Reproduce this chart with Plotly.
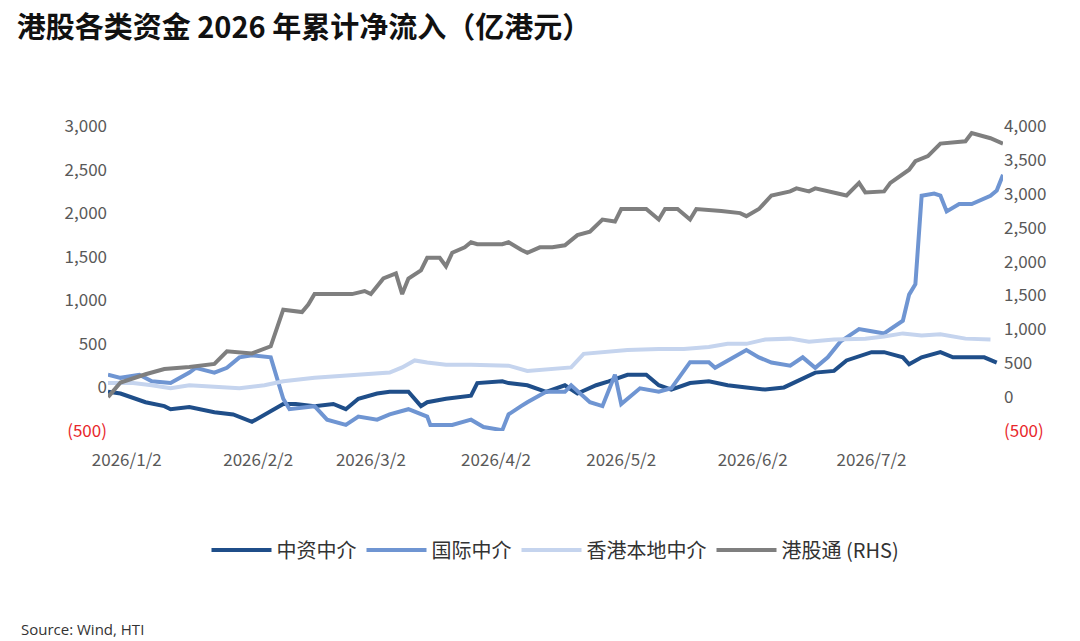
import plotly.graph_objects as go

# x = trading-day index since 2026/1/2
zz_x = [0,2,6,9,10,13,17,20,23,25,28,30,33,36,38,40,43,45,48,50,51,54,58,59,63,64,67,70,73,75,78,80,83,86,88,90,93,96,99,102,105,108,111,113,116,118,122,124,127,128,130,133,135,137,140,142]
zz_y = [-50,-70,-170,-215,-250,-225,-285,-310,-395,-310,-190,-190,-215,-190,-250,-130,-70,-50,-50,-215,-170,-130,-95,50,70,50,25,-50,25,-70,25,70,145,145,25,-25,50,70,25,0,-25,0,105,170,190,310,405,405,345,265,345,405,345,345,345,285]

gj_x = [0,2,5,7,10,13,14,17,19,21,23,26,28,29,33,35,38,40,43,45,48,51,51.5,55,58,60,63,64,66,67,70,73,74,77,79,81,82,85,88,90,93,96,97,100,102,104,106,109,111,113,115,117,120,122,124,127,128,129,130,132,133,134,136,138,139,141,142,143]
gj_y = [145,110,145,70,50,170,225,170,225,345,370,345,-130,-250,-215,-370,-430,-335,-370,-310,-250,-335,-430,-430,-370,-455,-490,-310,-215,-170,-50,-50,25,-170,-215,145,-190,-10,-50,-10,290,290,225,345,430,345,285,250,345,225,345,525,670,645,620,765,1065,1185,2200,2225,2200,2020,2105,2105,2140,2200,2260,2440]

hk_x = [0,4,7,10,13,17,21,25,28,33,37,42,45,47,49,51,54,58,61,64,67,70,74,76,80,83,88,92,96,99,102,105,109,112,116,121,124,127,130,133,137,141]
hk_y = [50,50,25,-10,25,10,-10,25,70,110,130,145,170,230,310,285,260,260,260,250,190,205,230,385,405,430,440,440,465,500,500,550,560,525,550,560,585,620,595,610,560,550]

sc_x = [0,2,6,9,13,17,19,23,26,28,31,32,33,39,41,42,44,46,47,48,50,51,53,54,55,57,58,59,63,64,66,67,69,71,73,75,77,79,81,82,86,88,89,91,93,94,98,101,102,104,106,109,110,112,113,116,118,120,121,124,125,128,129,131,133,137,138,141,143]
sc_y = [0,215,337,414,445,490,675,645,750,1290,1255,1365,1520,1520,1565,1520,1750,1825,1520,1750,1870,2055,2055,1930,2130,2210,2285,2255,2255,2285,2175,2130,2210,2210,2240,2390,2440,2620,2590,2775,2775,2620,2775,2775,2620,2775,2745,2715,2670,2775,2975,3035,3080,3035,3080,3020,2975,3160,3020,3035,3160,3355,3480,3555,3740,3775,3895,3820,3740]

tick_days = [3, 24, 42, 62, 82, 103, 122]
tick_text = ['2026/1/2','2026/2/2','2026/3/2','2026/4/2','2026/5/2','2026/6/2','2026/7/2']
left_ticks = [-500, 0, 500, 1000, 1500, 2000, 2500, 3000]
right_ticks = [-500, 0, 500, 1000, 1500, 2000, 2500, 3000, 3500, 4000]

def fmt(v):
    if v < 0:
        return '<span style="color:#e8272b">(%s)</span>' % format(-v, ',')
    return format(v, ',')

fig = go.Figure()
fig.add_trace(go.Scatter(x=zz_x, y=zz_y, name='中资中介', mode='lines', line=dict(color='#1f4e89', width=4)))
fig.add_trace(go.Scatter(x=gj_x, y=gj_y, name='国际中介', mode='lines', line=dict(color='#6f95d2', width=4)))
fig.add_trace(go.Scatter(x=hk_x, y=hk_y, name='香港本地中介', mode='lines', line=dict(color='#c5d4ee', width=4)))
fig.add_trace(go.Scatter(x=sc_x, y=sc_y, name='港股通 (RHS)', mode='lines', yaxis='y2', line=dict(color='#7f7f7f', width=4)))

fig.update_layout(
    width=1080, height=641,
    paper_bgcolor='white', plot_bgcolor='white',
    font=dict(family='Noto Sans CJK SC', size=17, color='#595959'),
    margin=dict(l=100, r=85, t=118, b=218),
    title=dict(text='<b>港股各类资金 2026 年累计净流入（亿港元）</b>', x=0.008, y=0.985,
               xanchor='left', yanchor='top', font=dict(size=29, color='#111111')),
    xaxis=dict(range=[0, 143], tickvals=tick_days, ticktext=tick_text, showgrid=False,
               zeroline=False, showline=False, ticks='outside', ticklen=14, tickcolor='white'),
    yaxis=dict(range=[-500, 3000], tickvals=left_ticks, ticktext=[fmt(v) for v in left_ticks],
               showgrid=False, zeroline=False, showline=False, ticks=''),
    yaxis2=dict(range=[-500, 4000], overlaying='y', side='right', tickvals=right_ticks,
                ticktext=[fmt(v) for v in right_ticks], showgrid=False, zeroline=False),
    legend=dict(orientation='h', x=0.5, xanchor='center', y=-0.39, yanchor='middle',
                font=dict(size=20, color='#333333'), itemwidth=60, tracegroupgap=30),
    annotations=[dict(text='Source: Wind, HTI', xref='paper', yref='paper', x=-0.1, y=-0.69,
                      xanchor='left', yanchor='bottom', showarrow=False,
                      font=dict(family='Open Sans', size=15, color='#333333'))],
)

fig.write_html("out.html")
